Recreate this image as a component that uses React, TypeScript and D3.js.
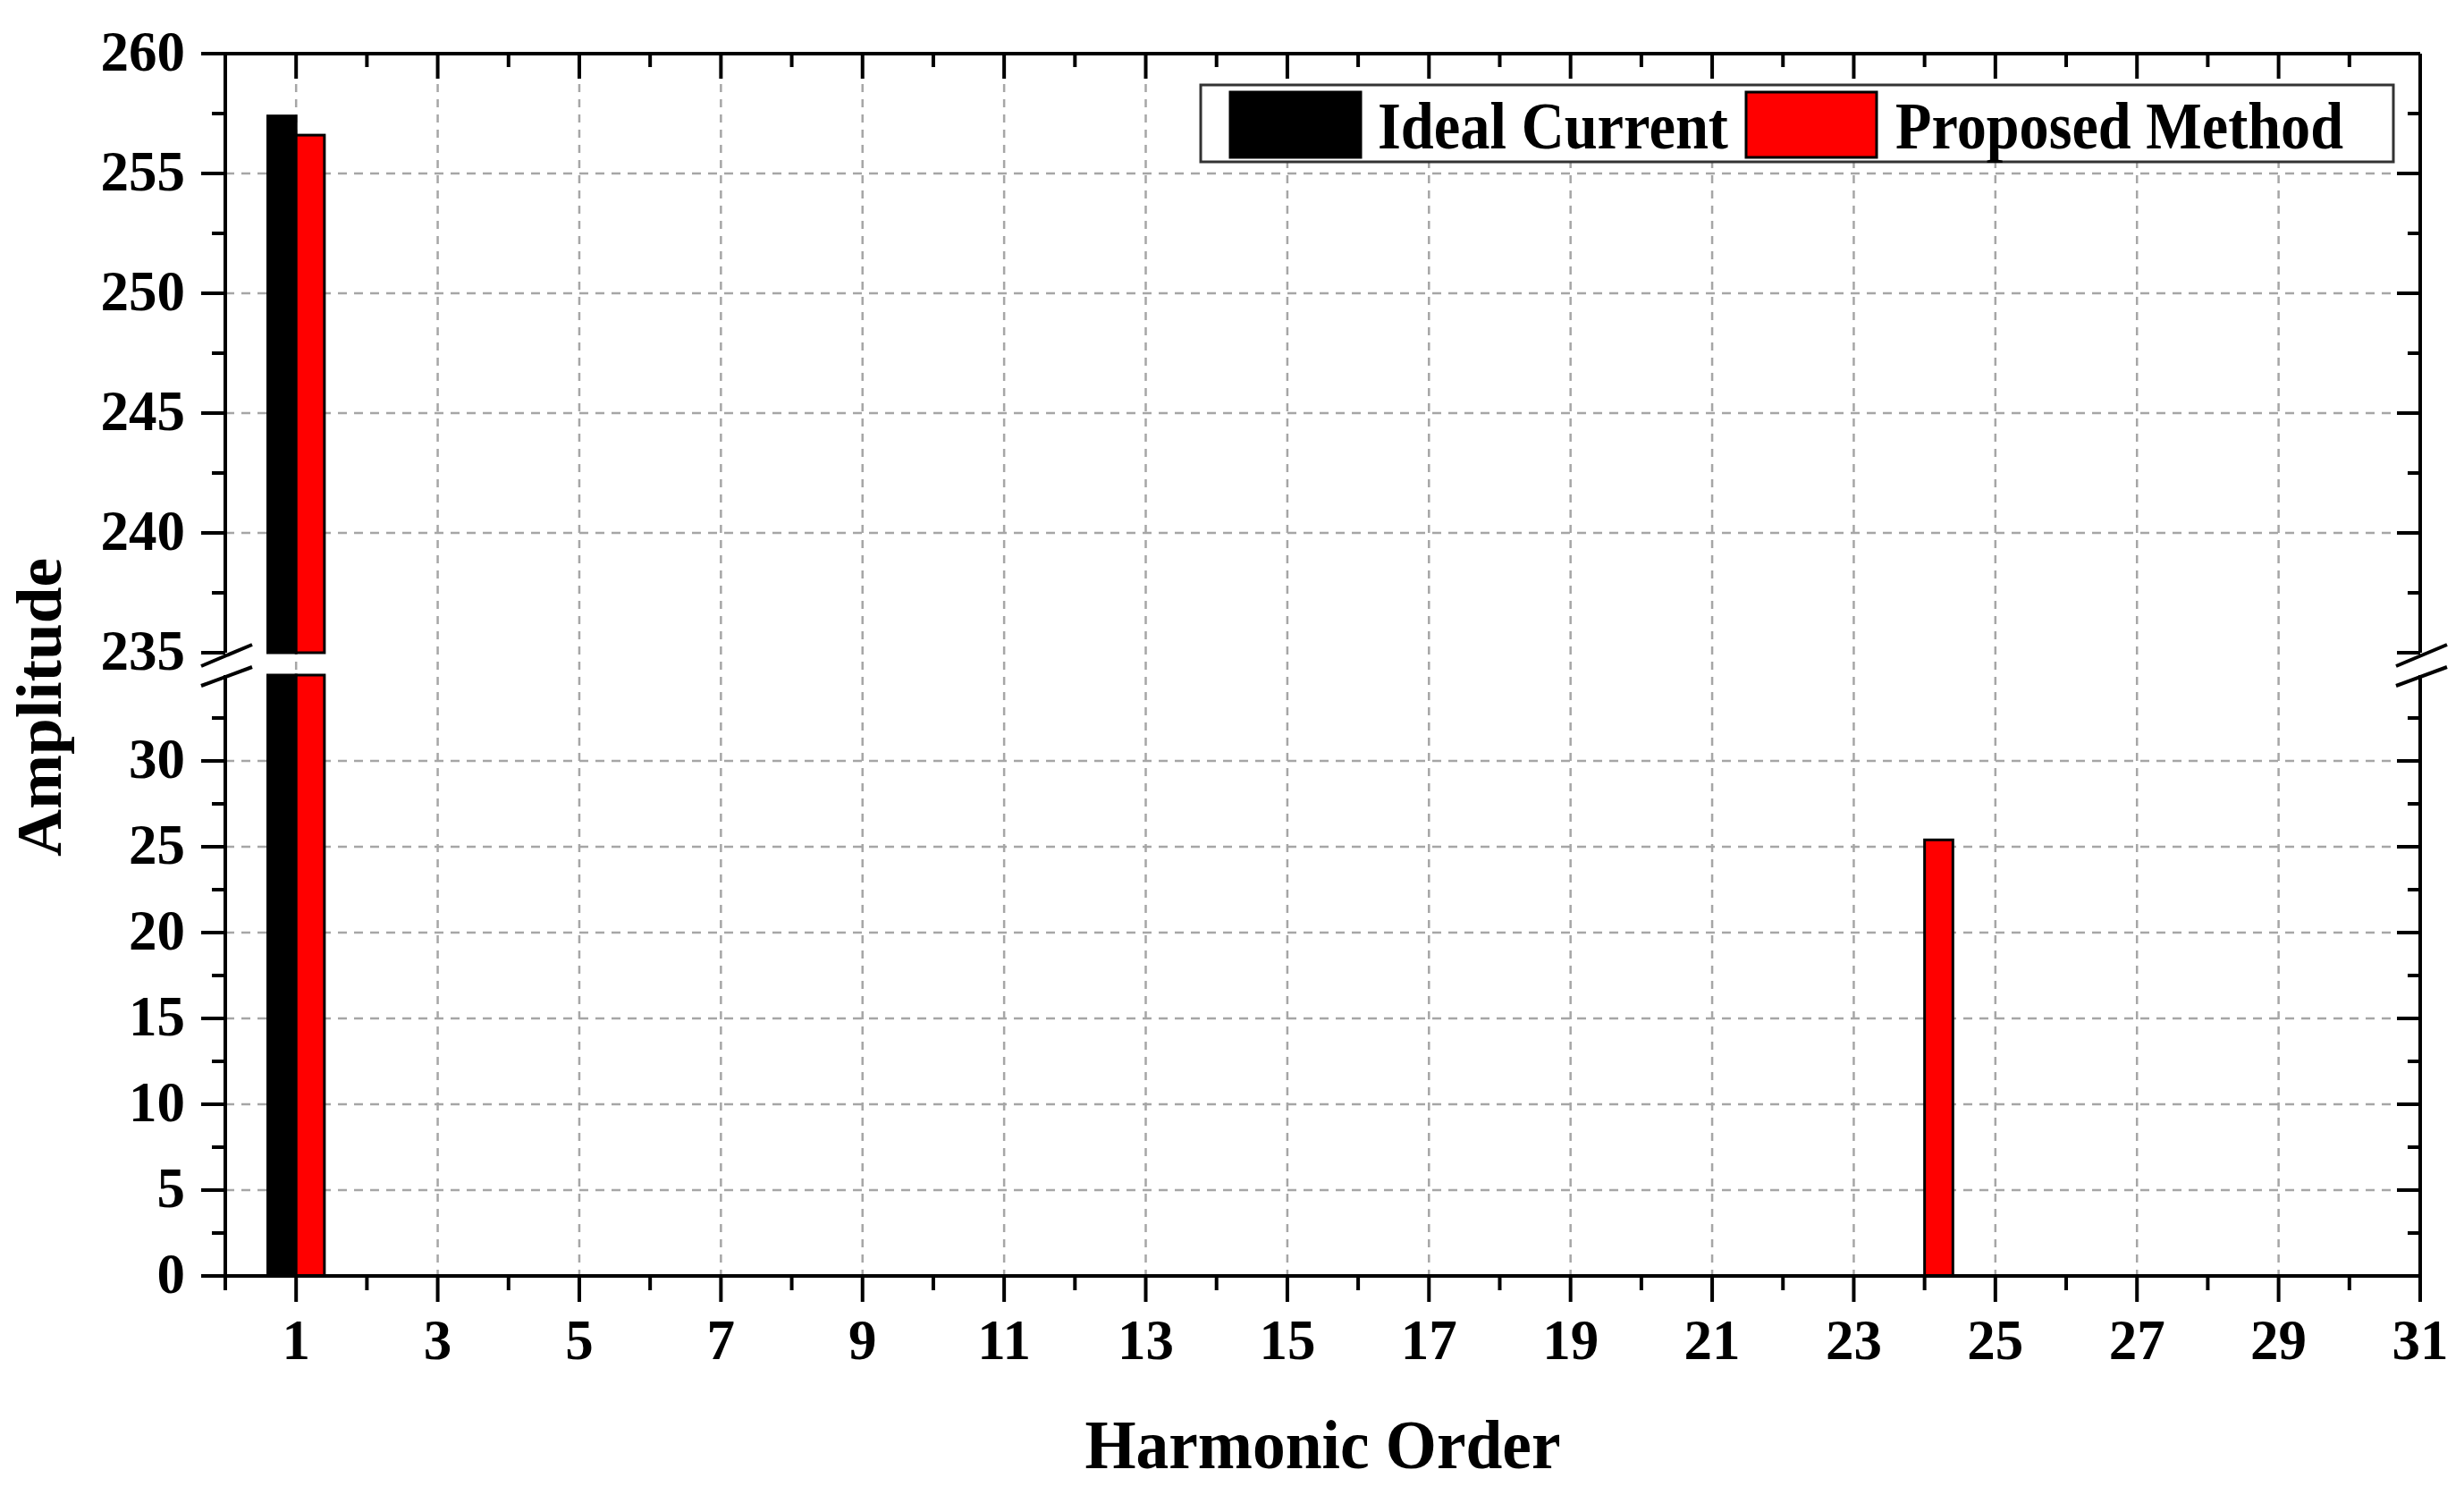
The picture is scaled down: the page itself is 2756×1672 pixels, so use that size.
import React from "react";
import * as d3 from "d3";

const harmonics = Array.from({ length: 31 }, (_, i) => i + 1);
const idealCurrent = [257.4, 0, 0, 0, 0, 0, 0, 0, 0, 0, 0, 0, 0, 0, 0, 0, 0, 0, 0, 0, 0, 0, 0, 0, 0, 0, 0, 0, 0, 0, 0];
const proposedMethod = [256.6, 0, 0, 0, 0, 0, 0, 0, 0, 0, 0, 0, 0, 0, 0, 0, 0, 0, 0, 0, 0, 0, 0, 25.4, 0, 0, 0, 0, 0, 0, 0];
const seriesNames = ["Ideal Current", "Proposed Method"];
const seriesColors = ["#000000", "#ff0000"];
const xTickLabels = [1, 3, 5, 7, 9, 11, 13, 15, 17, 19, 21, 23, 25, 27, 29, 31];
const upperTicks = [235, 240, 245, 250, 255, 260];
const lowerTicks = [0, 5, 10, 15, 20, 25, 30];

const W = 2756;
const H = 1672;
const L = 252, R = 2707, T = 60, B = 1427;
const breakTop = 730, breakBot = 755;
const FONT = "'Liberation Serif', 'Times New Roman', serif";

export default function App() {
  const x = d3.scaleLinear().domain([0, 31]).range([L, R]);
  const yU = d3.scaleLinear().domain([235, 260]).range([breakTop, T]);
  const yL = d3.scaleLinear().domain([0, 35]).range([B, breakBot]);
  const bw = 0.4;

  const upperMinor = d3.range(237.5, 260, 5);
  const lowerMinor = d3.range(2.5, 35, 5);
  const xMinor = d3.range(0, 31, 2);

  const bars: JSX.Element[] = [];
  [idealCurrent, proposedMethod].forEach((vals, si) => {
    vals.forEach((v, i) => {
      if (v <= 0) return;
      const h = harmonics[i];
      const x0 = si === 0 ? x(h - bw) : x(h);
      const x1 = si === 0 ? x(h) : x(h + bw);
      const fill = seriesColors[si];
      if (v > 35) {
        bars.push(
          <rect key={`l${si}-${i}`} x={x0} y={yL(35)} width={x1 - x0} height={yL(0) - yL(35)} fill={fill} stroke="#000" strokeWidth={3} />
        );
        bars.push(
          <rect key={`u${si}-${i}`} x={x0} y={yU(v)} width={x1 - x0} height={yU(235) - yU(v)} fill={fill} stroke="#000" strokeWidth={3} />
        );
      } else {
        bars.push(
          <rect key={`l${si}-${i}`} x={x0} y={yL(v)} width={x1 - x0} height={yL(0) - yL(v)} fill={fill} stroke="#000" strokeWidth={3} />
        );
      }
    });
  });

  const grid = "#a6a6a6";
  const breakLines = (cx: number) => (
    <g>
      <line x1={cx - 27} y1={breakTop + 15} x2={cx + 30} y2={breakTop - 9} stroke="#000" strokeWidth={4} />
      <line x1={cx - 27} y1={breakTop + 37} x2={cx + 30} y2={breakTop + 16} stroke="#000" strokeWidth={4} />
    </g>
  );

  return (
    <svg width={W} height={H} style={{ position: "absolute", left: 0, top: 0, background: "#fff" }} fontFamily={FONT}>
      <rect x={0} y={0} width={W} height={H} fill="#fff" />
      {xTickLabels.filter((t) => t < 31).map((t) => (
        <line key={`gx${t}`} x1={x(t)} x2={x(t)} y1={T} y2={B} stroke={grid} strokeWidth={2.5} strokeDasharray="9,8" />
      ))}
      {upperTicks.filter((t) => t > 235 && t < 260).map((t) => (
        <line key={`gu${t}`} x1={L} x2={R} y1={yU(t)} y2={yU(t)} stroke={grid} strokeWidth={2.5} strokeDasharray="10,8" />
      ))}
      {lowerTicks.filter((t) => t > 0).map((t) => (
        <line key={`gl${t}`} x1={L} x2={R} y1={yL(t)} y2={yL(t)} stroke={grid} strokeWidth={2.5} strokeDasharray="10,8" />
      ))}
      {bars}
      <line x1={L - 27} x2={R} y1={T} y2={T} stroke="#000" strokeWidth={4} />
      <line x1={L} x2={R} y1={B} y2={B} stroke="#000" strokeWidth={4} />
      <line x1={L} x2={L} y1={T} y2={breakTop} stroke="#000" strokeWidth={4} />
      <line x1={L} x2={L} y1={breakBot} y2={B} stroke="#000" strokeWidth={4} />
      <line x1={R} x2={R} y1={T} y2={breakTop} stroke="#000" strokeWidth={4} />
      <line x1={R} x2={R} y1={breakBot} y2={B} stroke="#000" strokeWidth={4} />
      {breakLines(L)}
      {breakLines(R)}
      {upperTicks.map((t) => (
        <g key={`ut${t}`}>
          <line x1={L - 27} x2={L} y1={yU(t)} y2={yU(t)} stroke="#000" strokeWidth={4} />
          <line x1={R - 26} x2={R} y1={yU(t)} y2={yU(t)} stroke="#000" strokeWidth={4} />
          <text x={207} y={yU(t) + 19} textAnchor="end" fontSize={63} fontWeight="bold">{t}</text>
        </g>
      ))}
      {upperMinor.map((t) => (
        <g key={`um${t}`}>
          <line x1={L - 15} x2={L} y1={yU(t)} y2={yU(t)} stroke="#000" strokeWidth={4} />
          <line x1={R - 14} x2={R} y1={yU(t)} y2={yU(t)} stroke="#000" strokeWidth={4} />
        </g>
      ))}
      {lowerTicks.map((t) => (
        <g key={`lt${t}`}>
          <line x1={L - 27} x2={L} y1={yL(t)} y2={yL(t)} stroke="#000" strokeWidth={4} />
          <line x1={R - 26} x2={R} y1={yL(t)} y2={yL(t)} stroke="#000" strokeWidth={4} />
          <text x={207} y={yL(t) + 19} textAnchor="end" fontSize={63} fontWeight="bold">{t}</text>
        </g>
      ))}
      {lowerMinor.map((t) => (
        <g key={`lm${t}`}>
          <line x1={L - 15} x2={L} y1={yL(t)} y2={yL(t)} stroke="#000" strokeWidth={4} />
          <line x1={R - 14} x2={R} y1={yL(t)} y2={yL(t)} stroke="#000" strokeWidth={4} />
        </g>
      ))}
      {xTickLabels.map((t) => (
        <g key={`xt${t}`}>
          <line x1={x(t)} x2={x(t)} y1={B} y2={B + 29} stroke="#000" strokeWidth={4} />
          <line x1={x(t)} x2={x(t)} y1={T} y2={T + 28} stroke="#000" strokeWidth={4} />
          <text x={x(t)} y={1520} textAnchor="middle" fontSize={63} fontWeight="bold">{t}</text>
        </g>
      ))}
      {xMinor.map((t) => (
        <g key={`xm${t}`}>
          <line x1={x(t)} x2={x(t)} y1={B} y2={B + 16} stroke="#000" strokeWidth={4} />
          <line x1={x(t)} x2={x(t)} y1={T} y2={T + 15} stroke="#000" strokeWidth={4} />
        </g>
      ))}
      <text x={(L + R) / 2} y={1642} textAnchor="middle" fontSize={78} fontWeight="bold" textLength={532} lengthAdjust="spacingAndGlyphs">Harmonic Order</text>
      <text transform={`translate(68, 791) rotate(-90)`} textAnchor="middle" fontSize={72} fontWeight="bold" textLength={334} lengthAdjust="spacingAndGlyphs">Amplitude</text>
      <rect x={1343} y={95} width={1334} height={86} fill="#fff" stroke="#333" strokeWidth={3} />
      <rect x={1376} y={103} width={146} height={73} fill={seriesColors[0]} stroke="#000" strokeWidth={3} />
      <text x={1541} y={166} fontSize={74} fontWeight="bold" textLength={392} lengthAdjust="spacingAndGlyphs">{seriesNames[0]}</text>
      <rect x={1953} y={103} width={146} height={73} fill={seriesColors[1]} stroke="#000" strokeWidth={3} />
      <text x={2120} y={166} fontSize={74} fontWeight="bold" textLength={501} lengthAdjust="spacingAndGlyphs">{seriesNames[1]}</text>
    </svg>
  );
}
